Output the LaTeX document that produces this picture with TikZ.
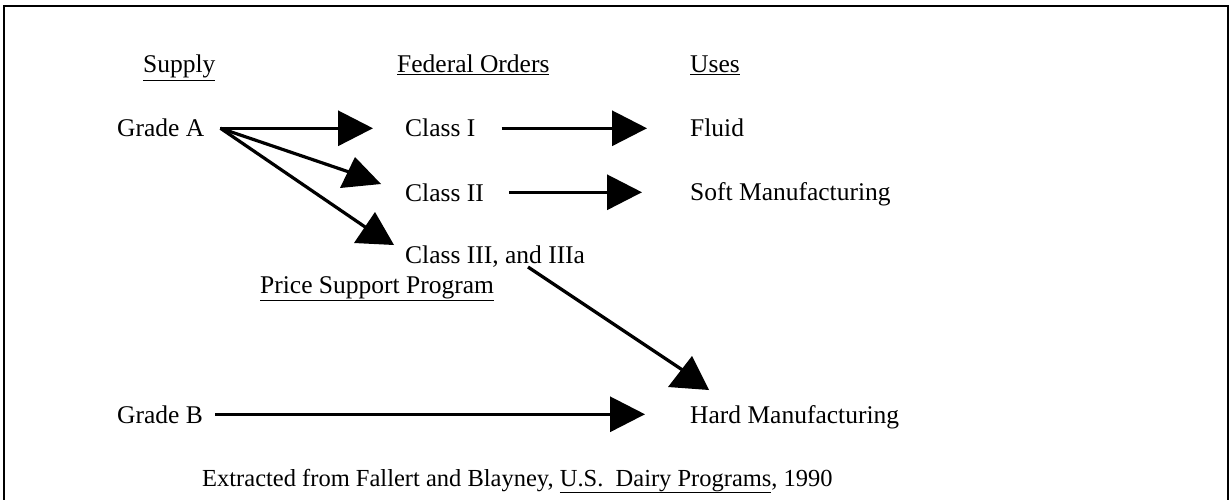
\documentclass[tikz,border=0pt]{standalone}
\usepackage{fontspec}
\setmainfont{Liberation Serif}
\usetikzlibrary{arrows.meta,calc}

\tikzset{
  lbl/.style={anchor=base west, inner sep=0pt, font=\fontsize{25.5pt}{30pt}\selectfont},
  conn/.style={line width=3.2pt},
  arr/.style={conn, -{Triangle[length=35pt,width=35pt]}},
  headfill/.style={fill=black},
}

\begin{document}
\begin{tikzpicture}[x=1pt, y=-1pt]
  \useasboundingbox (0,0) rectangle (1231,500);

  % frame (open at the bottom edge of the page)
  \draw[line width=2pt] (4,502) -- (4,6) -- (1228,6) -- (1228,502);

  % column headings
  \node[lbl] (hsup) at (143,73) {\underline{Supply}};
  \node[lbl] (hfed) at (397,73) {\underline{Federal Orders}};
  \node[lbl] (huse) at (690,73) {\underline{Uses}};

  % supply
  \node[lbl] (ga) at (117,137) {Grade A};
  \node[lbl] (gb) at (117,423) {Grade B};

  % federal order classes
  \node[lbl] (c1) at (405,137) {Class I};
  \node[lbl] (c2) at (405,201) {Class II};
  \node[lbl] (c3) at (405,263) {Class III, and IIIa};
  \node[lbl] (psp) at (260,293) {\underline{Price Support Program}};

  % uses
  \node[lbl] (fluid) at (690,137) {Fluid};
  \node[lbl] (soft) at (690,200) {Soft Manufacturing};
  \node[lbl] (hard) at (690,423) {Hard Manufacturing};

  % source line
  \node[lbl, font=\fontsize{24.5pt}{29pt}\selectfont] (src) at (202,486)
    {Extracted from Fallert and Blayney, \underline{U.S.\ \ Dairy Programs}, 1990};

  % straight arrows
  \draw[arr] ([xshift=16pt]ga.east) -- ([xshift=-32pt]ga.east -| c1.west);
  \draw[arr] ([xshift=26pt]c1.east) -- ([xshift=-43pt]c1.east -| fluid.west);
  \draw[arr] ([xshift=25pt]c2.east) -- ([xshift=-48pt]c2.east -| soft.west);
  \draw[arr] ([xshift=12pt]gb.east) -- ([xshift=-45pt]gb.east -| hard.west);

  % slanted arrows with their heads
  \coordinate (e2) at (352,173);
  \coordinate (e3) at (371,231);
  \coordinate (eh) at (684,371);

  \draw[conn] ([xshift=16pt]ga.east) -- (e2);
  \fill[headfill] (355,157) -- (340,188) -- (381,184) -- cycle;

  \draw[conn] ([xshift=16pt]ga.east) -- (e3);
  \fill[headfill] (375,212) -- (354,243) -- (394,245) -- cycle;

  \draw[conn] ([shift={(123pt,-4pt)}]c3.base west) -- (eh);
  \fill[headfill] (692,356) -- (668,387) -- (709,390) -- cycle;
\end{tikzpicture}
\end{document}
